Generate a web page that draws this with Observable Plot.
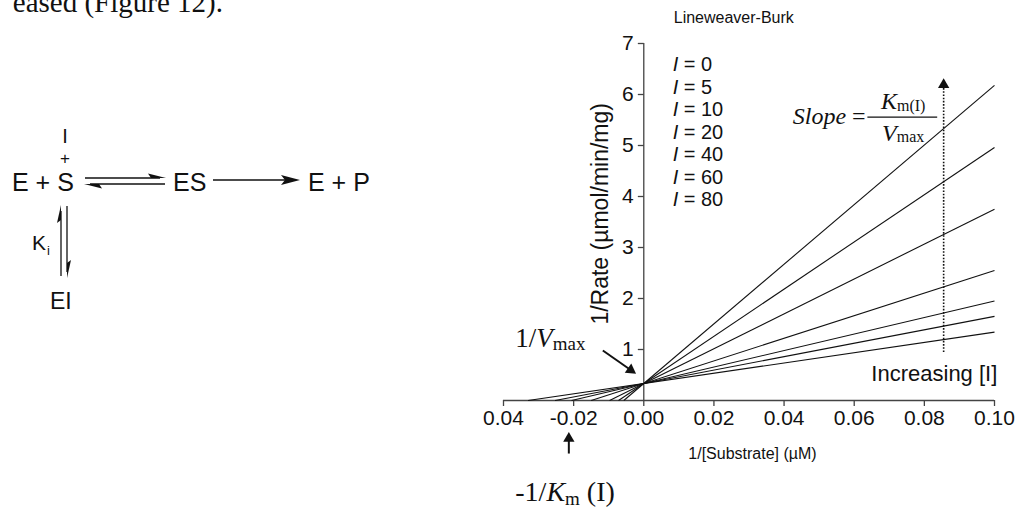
<!DOCTYPE html>
<html><head><meta charset="utf-8">
<script src="https://cdn.jsdelivr.net/npm/d3@7"></script>
<script src="https://cdn.jsdelivr.net/npm/@observablehq/plot@0.6"></script>
<style>
body{margin:0;background:#fff;}
#wrap{position:relative;width:1019px;height:508px;overflow:hidden;background:#fff;}
#wrap svg{position:absolute;left:0;top:0;}
</style></head><body><div id="wrap"></div>
<script>
// ---- data ----
const inhibitor = [0, 5, 10, 20, 40, 60, 80];
const xIntercept = [-0.033, -0.0253, -0.0206, -0.015, -0.00975, -0.0072, -0.0057];
const rateAtRight = [1.34, 1.65, 1.95, 2.55, 3.75, 4.96, 6.18];
const xRight = 0.10;
const xTicks = [-0.04, -0.02, 0, 0.02, 0.04, 0.06, 0.08, 0.10];
const xTickLabels = ["0.04", "-0.02", "0.00", "0.02", "0.04", "0.06", "0.08", "0.10"];
const yTicks = [1, 2, 3, 4, 5, 6, 7];
const titleText = ["Lineweaver-Burk"];
const yLabel = ["1/Rate (\u00b5mol/min/mg)"];
const xLabel = ["1/[Substrate] (\u00b5M)"];
const increasingLabel = ["Increasing [I]"];

const sans = "'Liberation Sans', Arial, Helvetica, sans-serif";
const serif = "'Liberation Serif', 'Times New Roman', serif";
const axisColor = "#444";
const ink = "#111";

const lines = inhibitor.map((v, i) => ({I: v, x1: xIntercept[i], x2: xRight, y2: rateAtRight[i]}));
const yTickLen = 0.0017;
const legendY = (d, i) => 6.583 - i * 0.441;

const chart = Plot.plot({
  width: 1019, height: 508,
  marginLeft: 503, marginRight: 25, marginTop: 43, marginBottom: 108,
  x: {domain: [-0.04, 0.10], axis: null},
  y: {domain: [0, 7], axis: null},
  style: {fontFamily: sans, fontSize: "20px", color: ink, background: "transparent", overflow: "visible"},
  marks: [
    Plot.ruleY([0], {stroke: axisColor, strokeWidth: 1.3}),
    Plot.axisX({ticks: xTicks, tickFormat: d => xTickLabels[xTicks.indexOf(d)], tickSize: 6, tickPadding: 4,
      fontSize: 21, stroke: axisColor, fill: ink, strokeWidth: 1.3, label: null}),
    Plot.ruleX([0], {y1: 0, y2: 7, stroke: axisColor, strokeWidth: 1.3}),
    Plot.link(yTicks, {x1: -yTickLen, x2: 0, y1: d => d, y2: d => d, stroke: axisColor, strokeWidth: 1.3}),
    Plot.text(yTicks, {x: 0, y: d => d, text: d => String(d), textAnchor: "end", dx: -10, fontSize: 21}),
    Plot.text(yLabel, {x: -0.01225, y: 3.66, text: d => d, rotate: -90, fontSize: 23}),
    Plot.text(xLabel, {x: 0.031, y: -1.04, text: d => d, fontSize: 16}),
    Plot.text(titleText, {x: 0.00855, y: 7.5, text: d => d, textAnchor: "start", fontSize: 16}),
    // legend
    Plot.text(inhibitor, {x: 0.00826, y: legendY, text: () => "I", fontStyle: "italic", textAnchor: "start", fontSize: 20}),
    Plot.text(inhibitor, {x: 0.00826, y: legendY, text: d => "= " + d, textAnchor: "start", dx: 11, fontSize: 20}),
    // Lineweaver-Burk lines
    Plot.link(lines, {x1: "x1", y1: 0, x2: "x2", y2: "y2", stroke: ink, strokeWidth: 1.1}),
    // increasing [I] dotted arrow
    Plot.ruleX([0.0855], {y1: 0.94, y2: 6.12, stroke: ink, strokeWidth: 1.6, strokeDasharray: "1.6,1.6"}),
    Plot.dot([0], {x: 0.0855, y: 6.19, symbol: "triangle", r: 4.2, fill: ink, stroke: null}),
    Plot.text(increasingLabel, {x: 0.1008, y: 0.53, text: d => d, textAnchor: "end", fontSize: 22}),
    // 1/Vmax arrow
    Plot.link([0], {x1: -0.01168, y1: 0.98, x2: -0.00373, y2: 0.598, stroke: ink, strokeWidth: 2}),
    Plot.dot([0], {x: -0.00373, y: 0.598, symbol: "triangle", r: 4.2, rotate: 125, fill: ink, stroke: null}),
    // -1/Km arrow
    Plot.link([0], {x1: -0.02137, y1: -1.04, x2: -0.02137, y2: -0.745, stroke: ink, strokeWidth: 2}),
    Plot.dot([0], {x: -0.02137, y: -0.745, symbol: "triangle", r: 4.2, fill: ink, stroke: null})
  ]
});
document.getElementById("wrap").appendChild(chart);

// ---- rich-text annotations positioned through the plot's scales ----
const sx = v => chart.scale("x").apply(v);
const sy = v => chart.scale("y").apply(v);
const svg = d3.select(chart);
function rich(x, y, parts, anchor) {
  const t = svg.append("text").attr("x", sx(x)).attr("y", sy(y))
    .attr("text-anchor", anchor || "start").attr("font-family", serif).attr("fill", ink);
  parts.forEach(p => {
    const s = t.append("tspan").text(p.t).attr("font-size", p.size);
    if (p.italic) s.attr("font-style", "italic");
    if (p.dy) s.attr("dy", p.dy);
  });
  return t;
}
// Slope = Km(I)/Vmax
rich(0.0634, 5.41, [{t: "Slope", size: 24, italic: true}, {t: " =", size: 24}], "end");
svg.append("line").attr("x1", sx(0.0639)).attr("x2", sx(0.0838)).attr("y1", sy(5.545)).attr("y2", sy(5.545))
  .attr("stroke", ink).attr("stroke-width", 1.2);
rich(0.0741, 5.70, [{t: "K", size: 24, italic: true}, {t: "m(I)", size: 16, dy: 2}], "middle");
rich(0.0741, 5.07, [{t: "V", size: 24, italic: true}, {t: "max", size: 16, dy: 1}], "middle");
// 1/Vmax
rich(-0.0365, 1.04, [{t: "1/", size: 27}, {t: "V", size: 27, italic: true}, {t: "max", size: 19, dy: 3}]);
// -1/Km (I)
rich(-0.0365, -1.99, [{t: "-1/", size: 28}, {t: "K", size: 28, italic: true}, {t: "m", size: 19, dy: 4}, {t: " (I)", size: 28, dy: -4}]);

// ---- reaction scheme (left) ----
const sch = d3.select("#wrap").append("svg").attr("width", 1019).attr("height", 508);
function txt(x, y, s, size, opts) {
  const t = sch.append("text").attr("x", x).attr("y", y).text(s)
    .attr("font-family", (opts && opts.family) || sans).attr("font-size", size).attr("fill", ink);
  if (opts && opts.anchor) t.attr("text-anchor", opts.anchor);
  return t;
}
function ln(x1, y1, x2, y2) {
  sch.append("line").attr("x1", x1).attr("y1", y1).attr("x2", x2).attr("y2", y2)
    .attr("stroke", ink).attr("stroke-width", 1.3);
}
function poly(pts) { sch.append("polygon").attr("points", pts.map(p => p.join(",")).join(" ")).attr("fill", ink); }

txt(223, 12, "eased (Figure 12).", 29, {family: serif, anchor: "end"});
txt(12, 191, "E + S", 25);
txt(65, 143, "I", 20, {anchor: "middle"});
txt(65, 164, "+", 17, {anchor: "middle"});
ln(85, 178, 160, 178); poly([[166, 178], [148, 173.5], [151, 178]]);
ln(90, 184, 165, 184); poly([[84, 184], [102, 188.5], [99, 184]]);
txt(173, 191, "ES", 25);
ln(213, 180, 288, 180); poly([[300, 180], [281, 175], [285, 180], [281, 185]]);
txt(308, 191, "E + P", 25);
ln(61, 211, 61, 276); poly([[61, 205], [57, 223], [61, 220]]);
ln(67, 206, 67, 272); poly([[67, 278], [71, 260], [67, 263]]);
txt(32, 250, "K", 21);
txt(47, 255, "i", 13);
txt(50, 309, "EI", 23);
</script></body></html>
